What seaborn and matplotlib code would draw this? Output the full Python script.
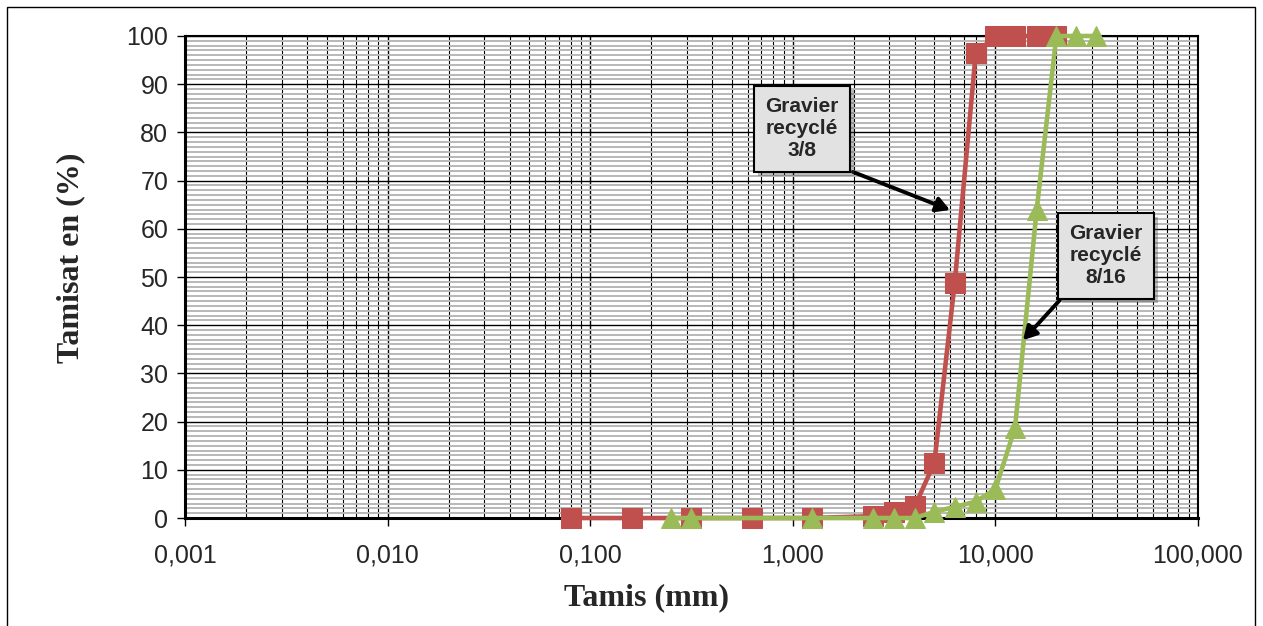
import seaborn as sns
import matplotlib.pyplot as plt
import matplotlib.patheffects as pe
from matplotlib.patches import Rectangle
from matplotlib.ticker import FixedLocator, LogLocator, MultipleLocator, NullFormatter

# tamis (mm) et tamisat (%)
tamis_38 = [0.08, 0.16, 0.315, 0.63, 1.25, 2.5, 3.15, 4, 5, 6.3, 8, 10, 12.5, 16, 20]
tamisat_38 = [0, 0, 0, 0, 0, 0.4, 1.3, 2.4, 11.5, 48.8, 96.4, 100, 100, 100, 100]

tamis_816 = [0.25, 0.315, 1.25, 2.5, 3.15, 4, 5, 6.3, 8, 10, 12.5, 16, 20, 25, 31.5]
tamisat_816 = [0, 0, 0, 0, 0, 0, 1.3, 2.3, 3.4, 6.0, 18.7, 64, 100, 100, 100]

xticks = [0.001, 0.01, 0.1, 1, 10, 100]
xtick_labels = ["0,001", "0,010", "0,100", "1,000", "10,000", "100,000"]
yticks = list(range(0, 101, 10))

red = "#C0504D"
green = "#9BBB59"

sns.set_style("white")
plt.rcParams["font.family"] = ["Liberation Sans", "DejaVu Sans"]

fig = plt.figure(figsize=(12.63, 6.26), dpi=100)
ax = fig.add_axes([0.1465, 0.1725, 0.802, 0.770])
ax.set_xscale("log")

sns.lineplot(x=tamis_38, y=tamisat_38, ax=ax, color=red, marker="s", markersize=14,
             markeredgecolor=red, linewidth=3.3, errorbar=None, zorder=5, clip_on=False)
sns.lineplot(x=tamis_816, y=tamisat_816, ax=ax, color=green, marker="^", markersize=14,
             markeredgecolor=green, linewidth=3.3, errorbar=None, zorder=6, clip_on=False)

ax.set_xlim(0.001, 100)
ax.set_ylim(0, 100)

# grille
ax.xaxis.set_major_locator(FixedLocator(xticks))
ax.set_xticklabels(xtick_labels)
ax.xaxis.set_minor_locator(LogLocator(base=10, subs=range(2, 10), numticks=20))
ax.xaxis.set_minor_formatter(NullFormatter())
ax.yaxis.set_major_locator(FixedLocator(yticks))
ax.yaxis.set_minor_locator(MultipleLocator(1))

ax.grid(which="minor", axis="y", color="#b8b8b8", linewidth=1.4, zorder=0)
ax.grid(which="minor", axis="x", color="black", linewidth=0.8, zorder=1)
ax.grid(which="major", axis="both", color="black", linewidth=1.0, zorder=1)
ax.set_axisbelow(True)

ax.tick_params(axis="both", which="major", direction="out", length=6, width=1,
               color="black", labelsize=18, bottom=True, left=True)
ax.tick_params(axis="x", which="major", pad=12)
ax.tick_params(axis="y", which="major", pad=6)
ax.tick_params(which="minor", length=0)

for side in ["left", "bottom"]:
    ax.spines[side].set_linewidth(2.2)
    ax.spines[side].set_color("black")
for side in ["top", "right"]:
    ax.spines[side].set_linewidth(1.5)
    ax.spines[side].set_color("black")

ax.set_xlabel("Tamis (mm)", fontfamily="Liberation Serif", fontweight="bold", fontsize=23)
ax.set_ylabel("Tamisat en (%)", fontfamily="Liberation Serif", fontweight="bold", fontsize=23)
ax.xaxis.set_label_coords(0.456, -0.135)
ax.yaxis.set_label_coords(-0.099, 0.54)

# étiquettes avec flèches
box = dict(boxstyle="square,pad=0.55", facecolor="#e2e2e2", edgecolor="black", linewidth=1.5)
labels = [("Gravier\nrecyclé\n3/8", (1.11, 80.8), (1.98, 71.8), (5.97, 63.9)),
          ("Gravier\nrecyclé\n8/16", (35.2, 54.4), (20.8, 45.2), (13.7, 36.9))]
for txt, pos, start, tip in labels:
    ax.annotate("", xy=tip, xytext=start, zorder=8,
                arrowprops=dict(arrowstyle="-|>,head_length=0.8,head_width=0.45",
                                color="black", linewidth=2.8, shrinkA=0, shrinkB=0))
    t = ax.text(pos[0], pos[1], txt, ha="center", va="center", fontsize=15,
                fontweight="bold", linespacing=1.2, bbox=box, zorder=9)
    t.get_bbox_patch().set_path_effects([pe.SimplePatchShadow(offset=(3, -3), alpha=0.35),
                                         pe.Normal()])

fig.patches.append(Rectangle((7 / 1263, -0.01), 1255 / 1263 - 7 / 1263, 1.01 - 7 / 626,
                             transform=fig.transFigure, fill=False, edgecolor="black",
                             linewidth=1.0))

fig.savefig("out.png", dpi=100)
